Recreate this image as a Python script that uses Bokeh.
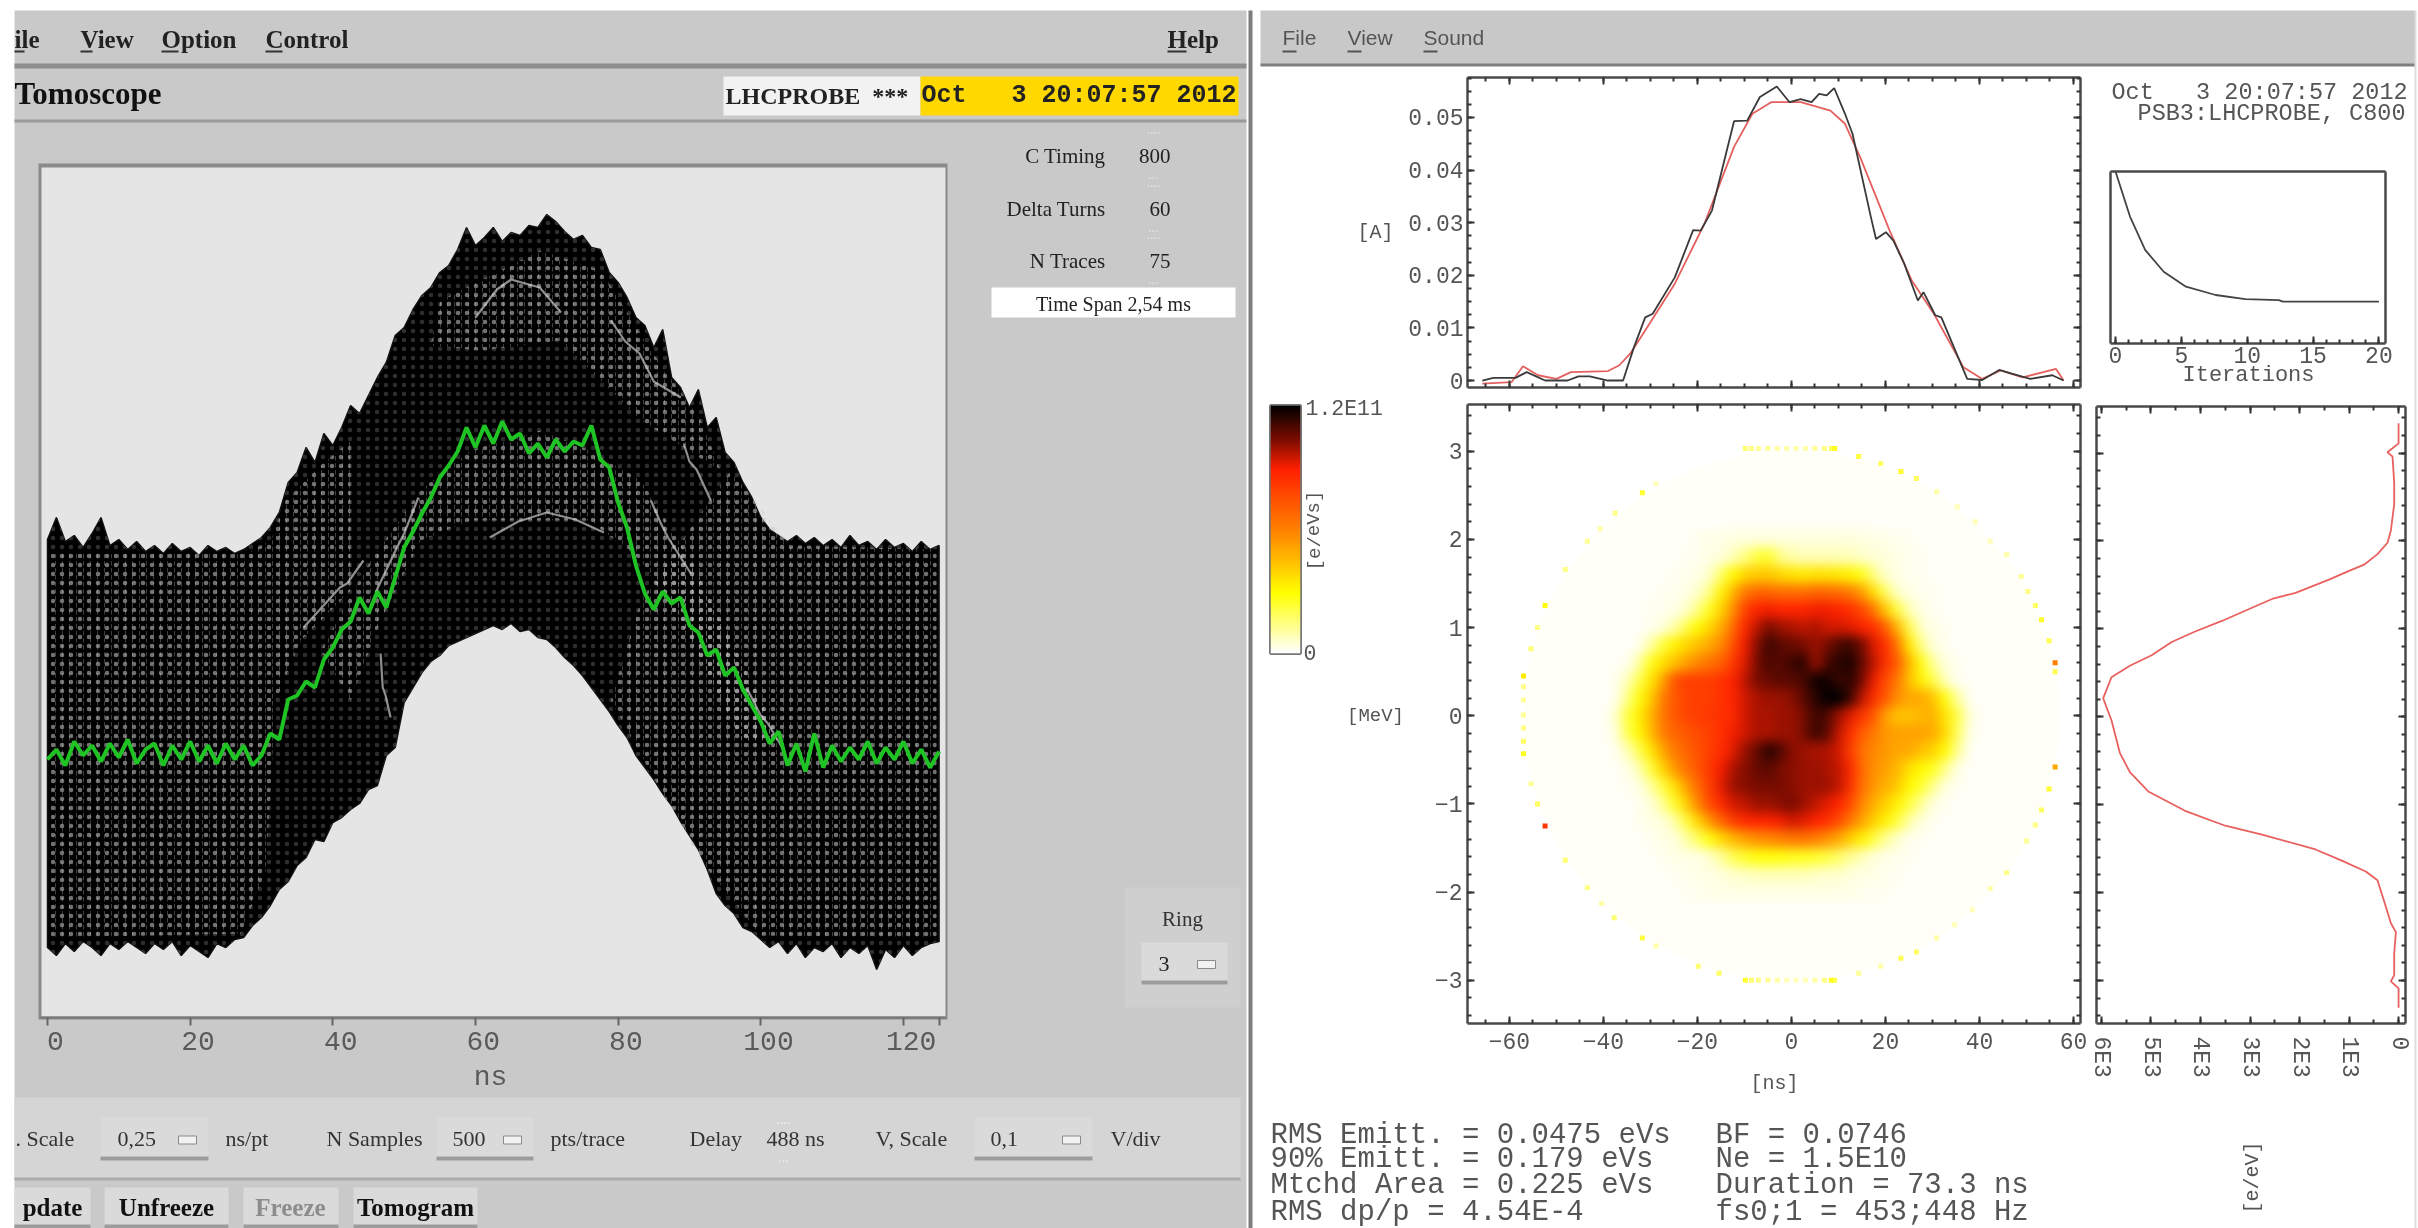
import numpy as np
from bokeh.plotting import figure
from bokeh.models import Range1d, LinearAxis, FixedTicker, CustomJSTickFormatter, LinearColorMapper, ColumnDataSource
from bokeh.core.properties import value
from bokeh.embed import file_html
from bokeh.resources import INLINE

# ---------------------------------------------------- waterfall (left panel)
TRACE_STEP_NS = 1.25
upper_level = [478,500,476,482,470,484,500,472,478,468,476,466,472,464,474,466,470,462,472,466,470,464,468,474,
               480,490,505,535,545,570,555,584,572,590,612,604,622,640,655,682,690,708,722,730,745,752,768,790,772,780,
               790,776,785,782,792,790,803,796,786,778,782,770,768,745,735,720,700,692,670,688,640,630,610,628,590,600,
               565,555,535,520,500,488,482,476,482,474,480,472,478,470,482,472,476,468,478,470,474,466,476,468,472]
lower_level = [70,62,74,66,76,70,62,74,68,76,70,64,74,68,76,62,72,66,60,74,70,78,80,92,
               100,112,128,136,152,160,178,176,195,200,208,214,228,232,262,270,315,330,345,356,362,372,376,380,384,388,
               392,388,394,386,388,380,378,370,360,352,342,330,318,306,292,280,262,250,238,224,212,196,182,168,148,124,
               112,104,90,86,78,70,76,64,74,60,70,66,74,60,70,64,72,48,68,60,72,62,70,74,76]
green_level = [258,268,252,276,262,272,256,274,260,278,254,268,274,252,272,258,276,256,272,254,274,258,272,252,
               262,284,278,318,322,336,330,358,370,388,396,420,404,426,410,440,470,486,504,520,540,552,566,590,570,592,
               574,596,578,584,564,574,560,578,566,576,572,592,558,550,515,490,452,424,408,426,414,420,392,385,362,368,
               342,350,328,312,296,274,286,252,274,246,284,250,272,256,270,258,276,254,270,258,276,254,268,250,266]
wf_ticks = [0, 20, 40, 60, 80, 100, 120, 125]
wf_label_ticks = [0, 20, 40, 60, 80, 100, 120]
wf_label_text = ["0", "20", "40", "60", "80", "100", "120"]
# speckled zones in the trace pile: (ns list, level list)
speck_zones = [
    ([0.5,27.8,31.3,33.4,38.3,42.5,42.5,35.5,32,30.6,27.1,0.5], [464,464,477,517,552,577,427,377,317,147,84,80]),
    ([104.2,124.6,124.6,100,91.6,86,79,83.2,95.8], [472,468,80,82,157,227,317,417,547]),
    ([55.1,69.1,77.6,84.6,91.6,94.4,83.2,71.9,60.7,53.7], [717,767,747,667,597,547,597,677,667,672]),
    ([38.3,45.3,52.3,59.3,69.1,76.1,83.2,90.2,95.8,102.8,97.2,90.2,83.2,76.1,67.7,59.3,52.3,46.7,42.5],
     [367,457,527,567,587,567,537,457,377,277,277,377,457,497,497,497,477,397,317]),
]
gap_ns = [[79,81,83,85,88.8],[89.2,90,91,93],[84.6,86,87,90.2],[44.3,42,41,35.9],[48.1,47.4,47,46.7],[52,50,49,46],[60,63,65,69,72],[62,66,70,74,78],[98,100,101,103]]
gap_lv = [[697,676,664,636,620],[574,556,548,517],[517,494,480,444],[457,434,430,390],[300,322,330,364],[520,484,470,425],[700,728,738,730,705],[480,496,505,498,485],[330,302,294,270]]

# ---------------------------------------------------- bunch profile
black_ns = [-65.75,-63.4,-58.7,-56.3,-52.4,-47.6,-45.3,-42.9,-39.0,-35.8,-33.5,-31.1,-29.5,-24.8,-20.9,-19.3,-16.9,-12.2,-9.4,-6.7,-3.1,-0.4,1.97,4.3,5.9,7.5,9.1,11.4,13.0,16.9,18.0,20.1,21.7,24.0,26.9,28.1,30.6,31.9,37.4,40.6,44.2,46.9,50.8,55.5,57.9]
black_a = [0,.0005,.0005,.0016,0,0,.0008,.0008,0,0,.0063,.012,.0127,.0196,.0286,.0285,.0323,.0493,.0494,.0539,.0559,.0529,.0535,.0529,.0545,.0542,.0556,.0507,.0469,.0311,.0269,.0282,.0266,.0222,.0152,.0168,.0124,.012,.0003,.0001,.002,.0013,.0003,.001,0]
red_ns = [-65.75,-59.5,-57.1,-53.9,-50,-46.9,-39,-36.6,-34.3,-31.1,-24.8,-18.5,-12.2,-8.3,-4.3,2,8.3,11.4,14.6,20.9,25.6,30.3,36.6,40.6,44.5,49.2,56.3,57.9]
red_a = [-.0006,-.0003,.0027,.001,.0003,.0016,.0018,.0029,.0051,.0095,.0184,.0298,.0444,.0507,.0529,.0529,.0513,.0488,.0425,.0285,.019,.0127,.0025,.0003,.0019,.0006,.0022,0]

# ---------------------------------------------------- convergence
iter_x = [0,1.1,2.25,3.66,5.35,7.6,9.86,12.4,12.7,20]
iter_y = [1,.738,.544,.417,.33,.282,.258,.252,.243,.243]

# ---------------------------------------------------- energy projection
proj_mev = [3.34,3.11,3.01,2.96,2.66,2.42,2.12,1.98,1.85,1.73,1.66,1.56,1.41,1.34,1.24,1.09,.97,.85,.70,.58,.45,.21,-.04,-.41,-.63,-.85,-1.07,-1.24,-1.34,-1.51,-1.64,-1.76,-1.86,-2.10,-2.35,-2.45,-2.69,-2.94,-3.01,-3.09,-3.31]
proj_val = [0,0,223,122,88,88,155,223,426,696,1000,1405,2081,2554,2960,3568,4108,4581,4987,5426,5798,5966,5798,5629,5426,5054,4311,3500,2757,1676,1135,662,426,291,155,54,88,88,155,0,0]
proj_ticks = [0,1000,2000,3000,4000,5000,6000]
proj_tick_labels = {0:"0",1000:"1E3",2000:"2E3",3000:"3E3",4000:"4E3",5000:"5E3",6000:"6E3"}

# ---------------------------------------------------- phase space density (1E9 e/eVs)
dens_ns = [-38.75, 38.75]
dens_mev = [-2.1, 2.1]
density = [
 [0,0,0,0,0,0,0,2,3,3,4,4,4,4,4,4,4,4,4,4,4,4,3,3,2,2,0,0,0,0,0],
 [0,0,0,0,0,0,2,2,3,4,8,14,22,24,14,10,8,8,8,8,8,6,5,4,3,2,2,0,0,0,0],
 [0,0,0,0,0,2,2,3,6,18,30,38,42,42,38,36,34,36,36,34,32,26,14,6,3,2,2,0,0,0,0],
 [0,0,0,0,2,2,3,6,14,32,46,62,68,68,66,66,66,68,68,66,62,52,36,18,6,3,2,2,0,0,0],
 [0,0,0,2,2,3,6,14,26,40,56,78,88,90,88,88,88,90,90,88,84,76,62,42,22,8,3,2,0,0,0],
 [0,0,0,2,4,10,20,30,38,50,66,86,96,104,100,98,96,98,94,94,92,88,84,70,46,20,6,3,2,0,0],
 [0,0,2,10,22,32,38,44,50,58,74,90,102,112,108,106,104,100,104,110,112,104,92,84,62,34,14,4,2,0,0],
 [0,2,10,26,36,44,52,58,64,70,82,92,104,110,108,112,114,100,110,114,116,106,96,84,70,46,28,12,4,2,0],
 [2,8,20,34,50,74,80,80,80,84,88,96,104,106,108,108,110,118,118,112,114,104,90,76,62,44,32,22,8,2,0],
 [2,14,28,40,60,72,78,80,80,84,88,94,98,100,100,102,108,114,120,120,112,96,84,72,56,50,50,44,28,12,2],
 [6,22,32,46,62,72,78,80,82,84,86,94,98,98,100,100,104,112,110,100,92,82,72,52,44,44,46,48,36,22,6],
 [4,20,30,44,60,68,72,76,80,84,90,94,98,98,100,100,104,112,108,96,84,70,62,54,52,52,52,50,38,20,4],
 [2,8,20,34,50,62,68,74,80,86,92,100,106,114,110,102,100,98,98,94,80,64,58,54,50,50,44,40,30,14,2],
 [0,3,8,22,38,54,64,72,82,90,98,102,106,108,104,102,100,100,98,96,86,66,56,52,46,36,30,26,14,4,0],
 [0,2,3,10,22,36,52,66,80,92,100,102,104,104,104,102,100,100,100,96,84,64,54,48,42,30,24,14,4,2,0],
 [0,0,2,4,12,24,40,58,76,86,94,96,100,100,102,104,100,96,92,88,76,58,48,40,32,22,12,4,2,0,0],
 [0,0,2,3,4,10,22,38,54,68,80,86,88,88,90,94,92,88,84,76,62,50,40,32,22,10,4,2,0,0,0],
 [0,0,0,2,3,4,10,18,28,38,46,52,56,58,60,62,64,60,56,50,40,32,22,12,6,2,2,0,0,0,0],
 [0,0,0,0,2,3,3,3,6,12,20,24,28,28,28,26,26,24,22,18,12,8,4,3,2,2,0,0,0,0,0],
 [0,0,0,0,0,2,2,3,3,4,6,7,8,8,8,8,8,7,6,6,4,3,3,2,2,0,0,0,0,0,0],
 [0,0,0,0,0,0,2,2,3,3,3,3,3,3,3,3,3,3,3,3,3,2,2,2,0,0,0,0,0,0,0],
]
ring_ns = [-9.8,-8.5,-7,-5,-3,-1,1,3,5,7,8.5,9.2, 14.3,19.0,23.3,26.6,30.9,35.3,39.1,42.3,45.8,48.9,50.3,51.9,53.2,54.8,56.1,56.1,56.1,54.8,53.2,51.9,50,45.8,42.3,38.5,34.7,30.9,26.6,23.3,19,14.3,
           9.2,8.5,7,5,3,1,-1,-3,-5,-7,-8.5,-9.8,-15.4,-19.8,-28.8,-31.7,-37.7,-40.4,-43.4,-48.1,-52.4,-54,-55.4,-57,-57,-57,-57,-57,-57,-57,-55.4,-54,-52.4,-48.1,-43.4,-40.7,-37.5,-31.7,-28.8]
ring_mev = [3.03,3.03,3.03,3.03,3.03,3.03,3.03,3.03,3.03,3.03,3.03,3.03, 2.94,2.86,2.77,2.69,2.54,2.37,2.20,1.98,1.83,1.58,1.41,1.25,1.09,.85,.60,.50,-.58,-.83,-1.07,-1.24,-1.42,-1.78,-1.96,-2.20,-2.37,-2.52,-2.68,-2.75,-2.84,-2.92,
            -3.0,-3.0,-3.0,-3.0,-3.0,-3.0,-3.0,-3.0,-3.0,-3.0,-3.0,-3.0,-2.92,-2.84,-2.61,-2.52,-2.29,-2.13,-1.95,-1.64,-1.25,-1.0,-.77,-.43,-.29,-.14,.01,.18,.33,.45,.76,1.0,1.25,1.66,1.98,2.12,2.30,2.53,2.63]
ring_val = [16,14,12,12,10,10,10,10,12,14,18,26, 22,18,24,18,10,8,8,8,10,12,14,18,24,20,60,20,50,24,18,14,12,14,10,8,8,10,18,20,10,12,
            20,26,14,10,8,8,8,10,12,14,16,24,18,16,10,22,16,10,14,16,82,18,12,26,18,14,12,12,14,34,16,14,28,14,12,10,14,24,8]
stops_t = [0,.243,.35,.5,.743,.865,1.0]
stops_c = [(255,255,255),(255,255,0),(255,200,0),(255,128,0),(255,32,0),(122,12,0),(0,0,0)]
palette = []
for t in np.linspace(0, 1, 256):
    palette.append("#%02X%02X%02X" % tuple(int(round(np.interp(t, stops_t, [c[i] for c in stops_c]))) for i in range(3)))
cmap = LinearColorMapper(palette=palette, low=0, high=120, nan_color="rgba(0,0,0,0)")

# ---------------------------------------------------- screen furniture
MONO = "Liberation Mono"; SERIF = "Liberation Serif"
NB = "\u00A0"
SOFT = "blur(0.7px)"
rects = [  # x0,y0,x1,y1,colour
 (14,10,1246,1228,"#C9C9C9"), (14,63,1246,68,"#8E8E8E"), (14,119,1246,122,"#9A9A9A"),
 (723,76,920,115,"#F2F2F2"), (920,76,1238,115,"#FFD800"),
 (38,163,947,1019,"#8A8A8A"), (41,167,945,1016,"#E5E5E5"),
 (991,287,1235,317,"#FFFFFF"), (1124,887,1240,1007,"#CFCFCF"),
 (14,1097,1240,1178,"#D5D5D5"), (14,1177,1240,1180,"#ABABAB"),
 (1248,10,1252,1228,"#7C7C7C"),
 (1260,10,2415,65,"#C8C8C8"), (1260,63,2415,66,"#808080"), (2414,10,2416,1228,"#DDDDDD"),
]
drop_boxes = [(100,1117,208,1160),(436,1117,533,1160),(974,1117,1092,1160),(1141,942,1227,984)]
buttons = [(14,1187,90,1228),(104,1187,228,1228),(243,1187,338,1228),(353,1187,477,1228)]

bg = figure(width=2418, height=1228, x_range=Range1d(0,2418), y_range=Range1d(1228,0), output_backend="svg",
            toolbar_location=None, x_axis_location=None, y_axis_location=None,
            min_border_left=0, min_border_right=0, min_border_top=0, min_border_bottom=0,
            outline_line_color=None, background_fill_color="white", border_fill_color="white",
            styles={"position":"absolute","left":"0px","top":"0px","filter":SOFT})
bg.grid.visible = False
for x0,y0,x1,y1,c in rects:
    bg.quad(left=[x0], right=[x1], top=[y0], bottom=[y1], fill_color=c, line_color=None)
for x0,y0,x1,y1 in drop_boxes + buttons:
    bg.quad(left=[x0], right=[x1], top=[y0], bottom=[y1], fill_color="#DADADA", line_color=None)
    bg.quad(left=[x0], right=[x1], top=[y1-4], bottom=[y1], fill_color="#9C9C9C", line_color=None)
for x0,y0,x1,y1 in drop_boxes:
    bg.quad(left=[x1-30], right=[x1-12], top=[(y0+y1)/2-3], bottom=[(y0+y1)/2+5], fill_color="#F2F2F2", line_color="#8A8A8A", line_width=1)

def txt(x, y, s, size, font=SERIF, color="#222222", align="left", angle=0, bold=False):
    bg.text(x=[x], y=[y], text=[s], text_font=value(font), text_font_size=f"{size}px", text_color=color,
            text_align=align, text_baseline="middle", angle=angle, text_font_style="bold" if bold else "normal")

for x,s in [(14,"ile"),(80,"View"),(161,"Option"),(265,"Control"),(1167,"Help")]:
    txt(x, 39, s, 25, bold=True)
for x0,x1 in [(14,24),(80,92),(161,178),(265,282),(1167,1186)]:
    bg.quad(left=[x0], right=[x1], top=[50], bottom=[52], fill_color="#333333", line_color=None)
txt(14, 93, "Tomoscope", 31, bold=True, color="#111111")
txt(725, 95, f"LHCPROBE{NB}{NB}***", 24, bold=True)
txt(921, 95, f"Oct{NB}{NB}{NB}3 20:07:57 2012", 25, font=MONO, bold=True)
for y,a,b in [(155,"C Timing","800"),(208,"Delta Turns","60"),(260,"N Traces","75")]:
    txt(1105, y, a, 21, align="right"); txt(1170, y, b, 21, align="right")
    txt(1153, y-27, "....", 14, align="center", color="#E2E2E2"); txt(1153, y+18, "...", 14, align="center", color="#E2E2E2")
txt(1113, 303, "Time Span 2,54 ms", 20, align="center")
txt(1182, 918, "Ring", 21, align="center", color="#333333")
txt(1158, 963, "3", 22, align="left")
for x,s in [(15,". Scale"),(117,"0,25"),(225,"ns/pt"),(326,"N Samples"),(452,"500"),(550,"pts/trace"),(689,"Delay"),(766,"488 ns"),(875,"V, Scale"),(990,"0,1"),(1110,"V/div")]:
    txt(x, 1138, s, 22, color="#333333")
txt(783, 1118, "....", 14, align="center", color="#EEEEEE"); txt(783, 1156, "...", 14, align="center", color="#EEEEEE")
for x,s,c in [(52,"pdate","#111111"),(166,"Unfreeze","#111111"),(290,"Freeze","#8C8C8C"),(415,"Tomogram","#111111")]:
    txt(x, 1207, s, 25, bold=True, align="center", color=c)
txt(490, 1077, "ns", 28, font=MONO, color="#5A5A5A", align="center")
for t, s in zip(wf_label_ticks, wf_label_text):
    txt(47 + 7.13*t + 8, 1040, s, 28, font=MONO, color="#5A5A5A", align="center")
# right window
for x,s in [(1282,"File"),(1347,"View"),(1423,"Sound")]:
    txt(x, 37, s, 21, font="Liberation Sans", color="#555555")
for x0,x1 in [(1282,1296),(1347,1361),(1423,1437)]:
    bg.quad(left=[x0], right=[x1], top=[50], bottom=[52], fill_color="#555555", line_color=None)
G = "#555555"
txt(2111, 92, f"Oct{NB}{NB}{NB}3 20:07:57 2012", 23.5, font=MONO, color=G)
txt(2405, 113, "PSB3:LHCPROBE, C800", 23.5, font=MONO, color=G, align="right")
txt(1375, 232, "[A]", 20, font=MONO, color=G, align="center")
txt(1375, 715, "[MeV]", 19, font=MONO, color=G, align="center")
txt(1305, 408, "1.2E11", 21.5, font=MONO, color=G)
txt(1303, 652, "0", 21.5, font=MONO, color=G)
txt(1314, 530, "[e/eVs]", 19, font=MONO, color=G, align="center", angle=1.5708)
txt(2248, 375, "Iterations", 22, font=MONO, color=G, align="center")
txt(1774, 1083, "[ns]", 20, font=MONO, color=G, align="center")
txt(2252, 1177, "[e/eV]", 20, font=MONO, color=G, align="center", angle=1.5708)
for y,a,b in [(1135,"RMS Emitt. = 0.0475 eVs","BF = 0.0746"),(1159,"90% Emitt. = 0.179 eVs","Ne = 1.5E10"),
              (1185,"Mtchd Area = 0.225 eVs","Duration = 73.3 ns"),(1212,"RMS dp/p = 4.54E-4","fs0;1 = 453;448 Hz")]:
    txt(1270, y, a, 29, font=MONO, color=G); txt(1715, y, b, 29, font=MONO, color=G)

# ---------------------------------------------------- plotting helpers
def panel(x0, y0, x1, y1, xr, yr, ml=70, mr=12, mt=12, mb=70, outline=None, blur=SOFT):
    f = figure(width=x1-x0+ml+mr, height=y1-y0+mt+mb, x_range=Range1d(*xr), y_range=Range1d(*yr),
               output_backend="svg", toolbar_location=None, x_axis_location=None, y_axis_location=None,
               min_border_left=ml, min_border_right=mr, min_border_top=mt, min_border_bottom=mb,
               background_fill_alpha=0, border_fill_alpha=0, outline_line_color=outline,
               styles={"position":"absolute","left":f"{x0-ml}px","top":f"{y0-mt}px","filter":blur})
    f.grid.visible = False
    return f

def axis(f, side, major, minor, labels=True, size=23, orient=None, overrides=None, standoff=6):
    a = LinearAxis(ticker=FixedTicker(ticks=list(major), minor_ticks=list(minor)), major_tick_in=7, major_tick_out=0,
                   minor_tick_in=4, minor_tick_out=0, axis_line_color="#4A4A4A", axis_line_width=2.5,
                   major_tick_line_color="#333333", minor_tick_line_color="#333333", major_tick_line_width=2,
                   minor_tick_line_width=2, major_label_text_font=MONO, major_label_text_color="#555555",
                   major_label_text_font_size=f"{size}px", major_label_standoff=standoff)
    if not labels:
        a.formatter = CustomJSTickFormatter(code="return ''")
        a.major_label_standoff = 0
        a.major_label_text_font_size = "1px"
    if orient: a.major_label_orientation = orient
    if overrides: a.major_label_overrides = overrides
    f.add_layout(a, side)
    return a

def box(f, xmaj, xmin, ymaj, ymin, **kw):
    axis(f, "left", ymaj, ymin, **kw.get("left", dict(labels=False)))
    axis(f, "below", xmaj, xmin, **kw.get("below", dict(labels=False)))
    axis(f, "above", xmaj, xmin, labels=False)
    axis(f, "right", ymaj, ymin, labels=False)

# ---------------------------------------------------- waterfall
wf = panel(40,167,945,1017,(-0.98,125.9),(0,850), ml=10, mr=10, mb=80)
t_up = np.arange(len(upper_level))*TRACE_STEP_NS
t_lo = np.arange(len(lower_level))*TRACE_STEP_NS
t_gr = np.arange(len(green_level))*TRACE_STEP_NS
pile_x = list(t_up)+list(t_lo[::-1]); pile_y = upper_level+lower_level[::-1]
wf.patch(pile_x, pile_y, fill_color="#000000", line_color="#111111", line_width=1.5)
wf.patch(pile_x, pile_y, fill_alpha=0, line_color=None, hatch_pattern="dot", hatch_color="#B8B8B8", hatch_scale=9, hatch_weight=0.8, hatch_alpha=0.25)
for zx, zy in speck_zones:
    for pat, sc, wt, al in [("vertical_dash",7,1.0,.32),("dot",9,1.0,.45)]:
        wf.patch(zx, zy, fill_alpha=0, line_color=None, hatch_pattern=pat, hatch_color="#C4C4C4", hatch_scale=sc, hatch_weight=wt, hatch_alpha=al)
wf.multi_line(gap_ns, gap_lv, line_color="#D8D8D8", line_width=2.2, line_alpha=0.65)
wf.line(t_gr, green_level, line_color="#1FC424", line_width=4)
wa = LinearAxis(ticker=FixedTicker(ticks=wf_ticks), major_tick_out=8, major_tick_in=0,
                axis_line_color="#777777", axis_line_width=2, major_tick_line_color="#666666", major_tick_line_width=2,
                formatter=CustomJSTickFormatter(code="return ''"), major_label_standoff=0, major_label_text_font_size="1px")
wf.add_layout(wa, "below")

# ---------------------------------------------------- profile
xr = (-68.9, 61.5)
x_maj = [-60,-40,-20,0,20,40,60]; x_min = list(np.arange(-65,61,5))
prof = panel(1467,77,2080,387,xr,(-0.00133,0.0576), ml=85)
prof.line(red_ns, red_a, line_color="#E4605F", line_width=1.8)
prof.line(black_ns, black_a, line_color="#3A3A3A", line_width=1.8)
box(prof, x_maj, x_min, [0,.01,.02,.03,.04,.05], list(np.arange(0,.0576,.0025)),
    left=dict(labels=True, size=23, standoff=4))

# ---------------------------------------------------- convergence
it = panel(2110,171,2385,343,(-0.38,20.5),(0,1), ml=10, mr=12, mb=50)
it.line(iter_x, iter_y, line_color="#444444", line_width=1.8)
axis(it, "below", [0,5,10,15,20], list(range(0,21)), size=23, standoff=3)
axis(it, "left", [], [], labels=False); axis(it, "right", [], [], labels=False); axis(it, "above", [], [], labels=False)

# ---------------------------------------------------- phase space
haze = panel(1467,404,2080,1023,xr,(-3.49,3.53), ml=10, mr=10, mt=10, mb=10)
haze.ellipse(x=[0], y=[0], width=114, height=6.0, fill_color="#FFFFF8", line_color=None)
heat = panel(1467,404,2080,1023,xr,(-3.49,3.53), ml=10, mr=10, mt=10, mb=10, blur="blur(6px)")
dens = np.flipud(np.array(density, dtype=float))
dens[dens == 0] = np.nan
heat.image(image=[dens], x=dens_ns[0], dw=dens_ns[1]-dens_ns[0], y=dens_mev[0], dh=dens_mev[1]-dens_mev[0], color_mapper=cmap)

ph = panel(1467,404,2080,1023,xr,(-3.49,3.53), ml=85, mb=60)
ring_src = ColumnDataSource(dict(x=ring_ns, y=ring_mev, v=ring_val))
ph.scatter("x", "y", source=ring_src, size=5, marker="square", line_color=None, fill_color={"field":"v","transform":cmap})
box(ph, x_maj, x_min, [-3,-2,-1,0,1,2,3], list(np.arange(-3.4,3.5,.2)),
    left=dict(labels=True, size=23, standoff=5), below=dict(labels=True, size=23, standoff=9))

# ---------------------------------------------------- colour bar
cb = panel(1270,405,1300,653,(0,1),(0,120), ml=4, mr=4, mt=4, mb=4, outline="#777777")
cb.outline_line_width = 3
cb.image(image=[np.linspace(0,120,256).reshape(-1,1)], x=0, dw=1, y=0, dh=120, color_mapper=cmap)

# ---------------------------------------------------- projection
pr = panel(2096,406,2405,1023,(6100,-140),(-3.49,3.53), ml=10, mr=11, mb=70)
pr.line(proj_val, proj_mev, line_color="#E8605F", line_width=1.8)
axis(pr, "below", proj_ticks, list(range(0,6001,500)), size=23, orient="vertical", overrides=proj_tick_labels, standoff=13)
axis(pr, "above", proj_ticks, list(range(0,6001,500)), labels=False)
axis(pr, "left", [-3,-2,-1,0,1,2,3], list(np.arange(-3.4,3.5,.2)), labels=False)
axis(pr, "right", [-3,-2,-1,0,1,2,3], list(np.arange(-3.4,3.5,.2)), labels=False)

roots = [bg, haze, heat, wf, prof, it, ph, cb, pr]
open("out.html", "w").write(file_html(roots, INLINE))
